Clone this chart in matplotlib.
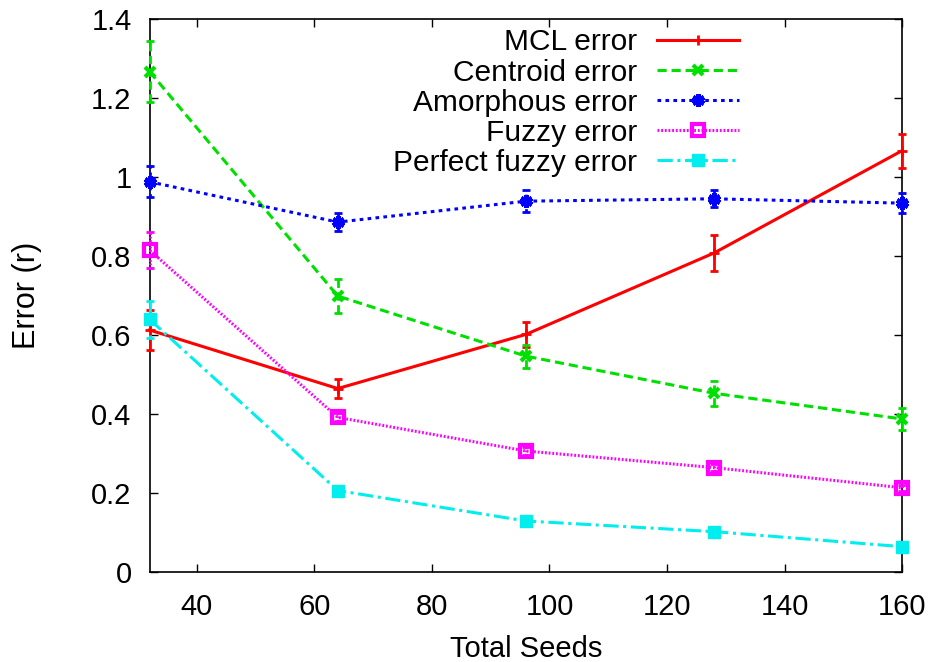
import matplotlib
matplotlib.use("Agg")
import matplotlib.pyplot as plt
import numpy as np

plt.rcParams['font.family'] = ['Liberation Sans', 'DejaVu Sans']

seeds = [32, 64, 96, 128, 160]

mcl = [0.612, 0.464, 0.601, 0.807, 1.066]
mcl_err = [0.051, 0.025, 0.031, 0.045, 0.043]

centroid = [1.266, 0.698, 0.546, 0.452, 0.387]
centroid_err = [0.077, 0.042, 0.029, 0.031, 0.027]

amorphous = [0.987, 0.885, 0.938, 0.944, 0.933]
amorphous_err = [0.039, 0.022, 0.027, 0.022, 0.025]

fuzzy = [0.814, 0.391, 0.306, 0.264, 0.213]
fuzzy_err = [0.045, 0.010, 0.009, 0.008, 0.007]

perfect = [0.639, 0.206, 0.129, 0.102, 0.064]
perfect_err = [0.047, 0.012, 0.008, 0.008, 0.006]

fig = plt.figure(figsize=(9.35, 6.62), dpi=100)
ax = fig.add_axes([0.160, 0.136, 0.805, 0.836])

series = [
    ("MCL error", mcl, mcl_err, "#ff0000", "-", dict(marker="+", ms=7, mew=2)),
    ("Centroid error", centroid, centroid_err, "#00e000", (0, (3, 1.6)), dict(marker="x", ms=7, mew=3)),
    ("Amorphous error", amorphous, amorphous_err, "#0000ff", (0, (1.2, 1.4)), dict(marker=(6, 2, 0), ms=9, mew=3.5)),
    ("Fuzzy error", fuzzy, fuzzy_err, "#ff00ff", (0, (0.6, 0.6)), dict(marker="s", ms=8, mew=3, mfc="none")),
    ("Perfect fuzzy error", perfect, perfect_err, "#00eeee", (0, (5, 1.5, 1, 1.5)), dict(marker="s", ms=8, mew=1)),
]

for label, vals, errs, col, ls, mk in series:
    c = ax.errorbar(seeds, vals, yerr=errs, fmt="none", ecolor=col,
                    elinewidth=2.0, capsize=3, capthick=2.0,
                    clip_on=False, zorder=3)
    for bar in c[2]:
        bar.set_linestyle(ls)
    ax.plot(seeds, vals, color=col, ls=ls, lw=2.2, label=label,
            clip_on=False, zorder=4, **mk)

ax.set_xlim(32, 160)
ax.set_ylim(0, 1.4)
ax.set_xticks([40, 60, 80, 100, 120, 140, 160])
ax.set_yticks([0, 0.2, 0.4, 0.6, 0.8, 1.0, 1.2, 1.4])
ax.set_yticklabels(["0", "0.2", "0.4", "0.6", "0.8", "1", "1.2", "1.4"])
ax.tick_params(direction="in", length=6, width=1, top=True, right=True,
               labelsize=21)
ax.tick_params(axis="x", pad=15)
ax.tick_params(axis="y", pad=13)
for s in ax.spines.values():
    s.set_linewidth(1.2)

ax.set_xlabel("Total Seeds", fontsize=21)
ax.set_ylabel("Error (r)", fontsize=22)
ax.xaxis.set_label_coords(0.5, -0.114)
ax.yaxis.set_label_coords(-0.143, 0.5)

leg = ax.legend(loc="upper right", bbox_to_anchor=(0.783, 0.982), frameon=False,
                markerfirst=False, fontsize=21.5, handlelength=2.75,
                labelspacing=0.07, handletextpad=0.67, borderaxespad=0,
                borderpad=0)

fig.savefig("out.png", dpi=100)
